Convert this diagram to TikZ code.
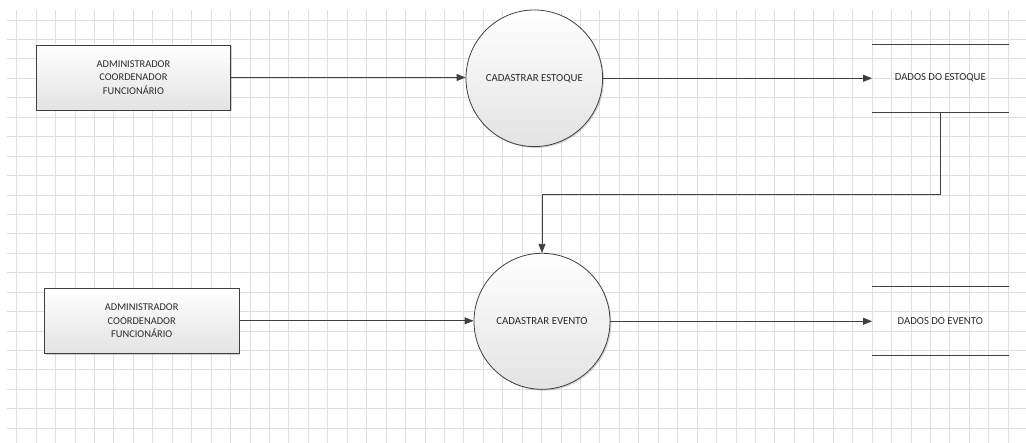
\documentclass[tikz,border=0pt]{standalone}
\usepackage{fontspec}
\setmainfont{Carlito}
\usetikzlibrary{arrows.meta,shadows}
\definecolor{gridc}{HTML}{DFDFDF}
\definecolor{linec}{HTML}{404040}
\definecolor{textc}{HTML}{2B2B2B}
\tikzset{
  gridline/.style={draw=gridc, line width=0.85pt},
  entity/.style={draw=linec, line width=0.8pt, rectangle, minimum width=194.7pt, minimum height=65pt,
    top color=white, bottom color=black!11, align=center, text=textc,
    font=\fontsize{10.4}{13.5}\selectfont, inner sep=0pt,
    drop shadow={shadow xshift=1.3pt, shadow yshift=-1.3pt, opacity=0.3, fill=black!60}},
  process/.style={draw=linec, line width=0.8pt, circle, inner sep=0pt,
    top color=white, bottom color=black!11, text=textc,
    font=\fontsize{10.8}{13.5}\selectfont,
    drop shadow={shadow xshift=1.3pt, shadow yshift=-1.3pt, opacity=0.3, fill=black!60}},
  store/.style={rectangle, minimum width=136pt, inner sep=0pt, text=textc,
    font=\fontsize{10.7}{13.5}\selectfont},
  storeline/.style={draw=linec, line width=0.8pt},
  flow/.style={draw=linec, line width=0.8pt, -{Triangle[length=9pt,width=7pt]}},
}
\begin{document}
\begin{tikzpicture}[x=1pt,y=-1pt]
\useasboundingbox (0,0) rectangle (1026,443);
\fill[white] (0,0) rectangle (1026,443);
% grid
\foreach \i in {0,...,51} \draw[gridline] ({16.7+19.44*\i},10) -- ({16.7+19.44*\i},443);
\foreach \j in {0,...,21} \draw[gridline] (7,{20+19.44*\j}) -- (1026,{20+19.44*\j});
% nodes
\node[entity] (box1) at (133.4,77.5) {ADMINISTRADOR\\COORDENADOR\\FUNCIONÁRIO};
\node[entity] (box2) at (141.7,320.8) {ADMINISTRADOR\\COORDENADOR\\FUNCIONÁRIO};
\node[process, minimum size=136.6pt] (c1) at (534.3,78.3) {CADASTRAR ESTOQUE};
\node[process, minimum size=136pt] (c2) at (542,321.3) {CADASTRAR EVENTO};
\node[store, minimum height=67.7pt] (s1) at (940.3,78.2) {DADOS DO ESTOQUE};
\node[store, minimum height=68.6pt] (s2) at (940.3,321) {DADOS DO EVENTO};
\draw[storeline] (s1.north west) -- (s1.north east);
\draw[storeline] (s1.south west) -- (s1.south east);
\draw[storeline] (s2.north west) -- (s2.north east);
\draw[storeline] (s2.south west) -- (s2.south east);
% flows
\coordinate (k) at (0,194.7);
\draw[flow] (box1.east) -- (box1.east -| c1.west);
\draw[flow] (c1.east) -- (c1.east -| s1.west);
\draw[flow] (box2.east) -- (box2.east -| c2.west);
\draw[flow] (c2.east) -- (c2.east -| s2.west);
\draw[flow] (s1.south) |- (k -| c2.north) -- (c2.north);
\end{tikzpicture}
\end{document}
